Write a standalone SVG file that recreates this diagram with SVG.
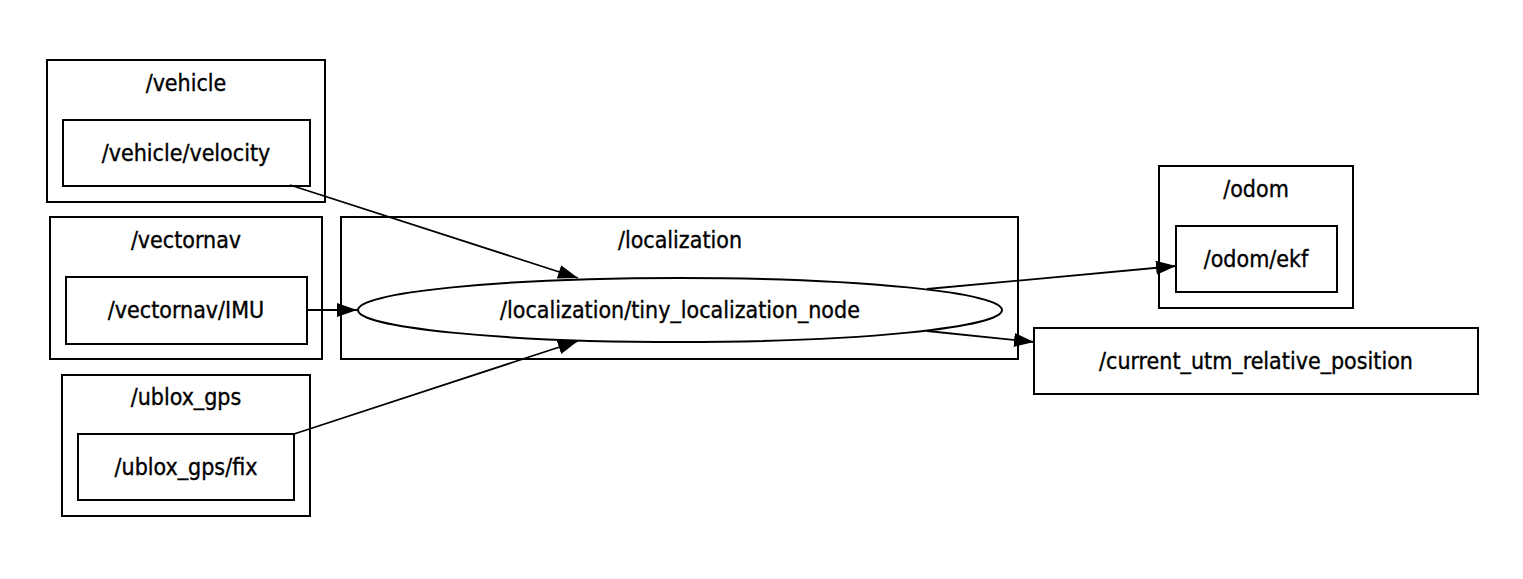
<svg xmlns="http://www.w3.org/2000/svg" width="1523" height="579" viewBox="0 0 1523 579">
<style>
.box{fill:none;stroke:#000;stroke-width:2}
text{font-family:"DejaVu Sans Condensed","DejaVu Sans",sans-serif;font-size:23px;text-anchor:middle;fill:#000;stroke:#000;stroke-width:0.35}
.edge{fill:none;stroke:#000;stroke-width:1.8}
</style>
<defs>
<marker id="arr" markerUnits="userSpaceOnUse" markerWidth="22" markerHeight="15" refX="20" refY="7" orient="auto">
<path d="M0,0 L20,7 L0,14 Z" fill="#000"/>
</marker>
</defs>
<rect width="1523" height="579" fill="#fff"/>
<g id="cluster_vehicle">
<rect class="box" x="47" y="60" width="278" height="142"/>
<text x="186" y="91">/vehicle</text>
</g>
<g id="node_vehicle_velocity">
<rect class="box" x="63" y="120" width="247" height="66"/>
<text x="186" y="161">/vehicle/velocity</text>
</g>
<g id="cluster_vectornav">
<rect class="box" x="50" y="217" width="272" height="142"/>
<text x="186" y="248">/vectornav</text>
</g>
<g id="node_vectornav_IMU">
<rect class="box" x="66" y="277" width="241" height="67"/>
<text x="186" y="318">/vectornav/IMU</text>
</g>
<g id="cluster_ublox_gps">
<rect class="box" x="62" y="375" width="248" height="141"/>
<text x="186" y="405">/ublox_gps</text>
</g>
<g id="node_ublox_gps_fix">
<rect class="box" x="78" y="434" width="216" height="66"/>
<text x="186" y="475">/ublox_gps/fix</text>
</g>
<g id="cluster_localization">
<rect class="box" x="341" y="217" width="677" height="142"/>
<text x="680" y="248">/localization</text>
</g>
<g id="node_tiny_localization_node">
<ellipse class="box" cx="680" cy="310" rx="322" ry="32"/>
<text x="680" y="318">/localization/tiny_localization_node</text>
</g>
<g id="cluster_odom">
<rect class="box" x="1159" y="166" width="194" height="142"/>
<text x="1256" y="197">/odom</text>
</g>
<g id="node_odom_ekf">
<rect class="box" x="1176" y="226" width="161" height="66"/>
<text x="1256" y="267">/odom/ekf</text>
</g>
<g id="node_current_utm_relative_position">
<rect class="box" x="1034" y="328" width="444" height="66"/>
<text x="1256" y="369">/current_utm_relative_position</text>
</g>
<g id="edges">
<line class="edge" x1="290" y1="185" x2="578" y2="278" marker-end="url(#arr)"/>
<line class="edge" x1="307" y1="310" x2="357" y2="310" marker-end="url(#arr)"/>
<line class="edge" x1="294" y1="434" x2="578" y2="341" marker-end="url(#arr)"/>
<line class="edge" x1="927" y1="289" x2="1176" y2="266" marker-end="url(#arr)"/>
<line class="edge" x1="927" y1="331" x2="1034" y2="342" marker-end="url(#arr)"/>
</g>
</svg>
